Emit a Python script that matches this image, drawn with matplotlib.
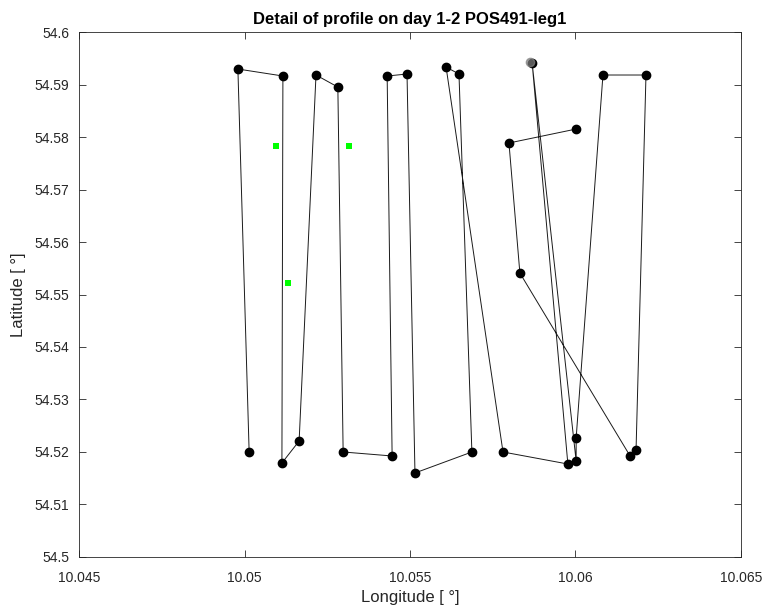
import numpy as np
import matplotlib
matplotlib.use("Agg")
import matplotlib.pyplot as plt
from matplotlib.ticker import FormatStrFormatter

plt.rcParams['font.family'] = ['Liberation Sans', 'DejaVu Sans']

# track points (in sailing order)
lon = [10.05014, 10.04980, 10.05116, 10.05113, 10.05165, 10.05216, 10.05282,
       10.05298, 10.05446, 10.05431, 10.05491, 10.05515, 10.05687, 10.05648,
       10.05609, 10.05781, 10.05977, 10.05869, 10.06002, 10.06002, 10.06083,
       10.06213, 10.06183, 10.06165, 10.05832, 10.05799, 10.06002]
lat = [54.52000, 54.59295, 54.59162, 54.51790, 54.52209, 54.59181, 54.58952,
       54.52000, 54.51924, 54.59162, 54.59200, 54.51600, 54.52000, 54.59200,
       54.59333, 54.52000, 54.51771, 54.59410, 54.51829, 54.52266, 54.59181,
       54.59181, 54.52038, 54.51924, 54.55409, 54.57886, 54.58152]

# faded duplicate point
dup_lon = [10.05863]
dup_lat = [54.59429]

# stations
st_lon = [10.05095, 10.05316, 10.05131]
st_lat = [54.57828, 54.57828, 54.55219]

xticks = [10.045, 10.05, 10.055, 10.06, 10.065]
yticks = np.round(np.arange(54.5, 54.6001, 0.01), 2)

fig = plt.figure(figsize=(7.68, 6.11), dpi=100)
ax = fig.add_axes([0.1029, 0.0884, 0.8619, 0.8592])

ax.plot(lon, lat, '-', color='#1a1a1a', lw=0.7)
ax.plot(lon, lat, 'o', color='black', markersize=6)
ax.plot(dup_lon, dup_lat, 'o', color='gray', markersize=6, alpha=0.7)
ax.plot(st_lon, st_lat, 's', color='#00ff00', markersize=4.5, markeredgewidth=0)

ax.set_xlim(10.045, 10.065)
ax.set_ylim(54.5, 54.6)
ax.set_xticks(xticks)
ax.set_yticks(yticks)
ax.xaxis.set_major_formatter(FormatStrFormatter('%g'))
ax.yaxis.set_major_formatter(FormatStrFormatter('%g'))
ax.tick_params(direction='in', top=True, right=True, labelsize=10,
               colors='#262626', length=5, width=0.6)
ax.tick_params(axis='x', pad=10)
ax.tick_params(axis='y', pad=7)
for s in ax.spines.values():
    s.set_color('#262626')
    s.set_linewidth(0.6)

ax.set_xlabel('Longitude [ °]', fontsize=12, color='#262626', labelpad=4)
ax.set_ylabel('Latitude [ °]', fontsize=12, color='#262626', labelpad=6)
ax.set_title('Detail of profile on day 1-2 POS491-leg1', fontsize=12,
             fontweight='bold', pad=6)

fig.savefig('out.png', dpi=100)
